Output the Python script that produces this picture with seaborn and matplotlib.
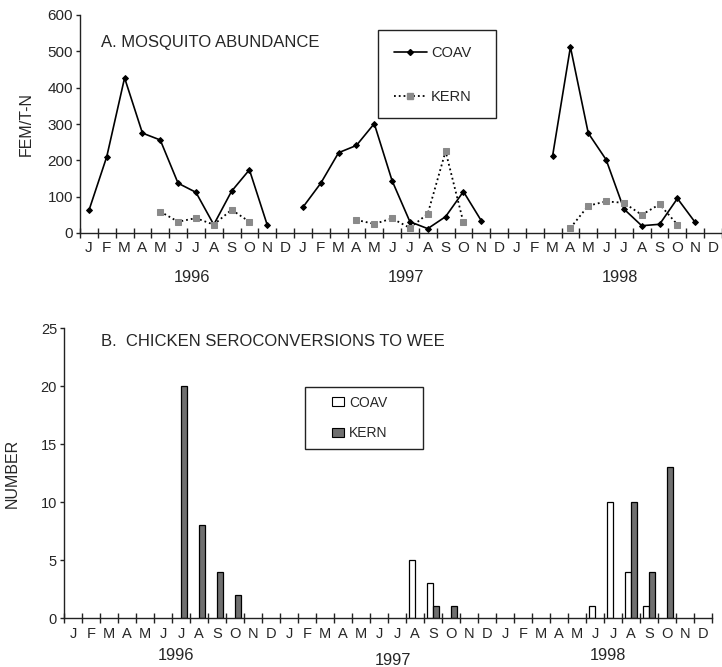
import numpy as np
import pandas as pd
import matplotlib
matplotlib.use("Agg")
import matplotlib.pyplot as plt
import matplotlib.patches as mpatches
from matplotlib.lines import Line2D
import seaborn as sns

sns.set_style("ticks")
plt.rcParams['font.family'] = ['Liberation Sans', 'DejaVu Sans']

nan = np.nan

# ---- data -------------------------------------------------------------
years = [1996, 1997, 1998]
month_letters = ["J", "F", "M", "A", "M", "J", "J", "A", "S", "O", "N", "D"]
sites = ["COAV", "KERN"]

# A. mosquito abundance (females per trap-night), one value per month
coav_abund_1996 = [62, 210, 427, 275, 256, 137, 112, 23, 115, 174, 22, nan]
coav_abund_1997 = [71, 137, 221, 241, 301, 144, 31, 12, 45, 114, 34, nan]
coav_abund_1998 = [nan, nan, 212, 512, 275, 202, 66, 20, 24, 95, 29, nan]
kern_abund_1996 = [nan, nan, nan, nan, 59, 31, 41, 23, 64, 31, nan, nan]
kern_abund_1997 = [nan, nan, nan, 36, 25, 40, 14, 53, 225, 29, nan, nan]
kern_abund_1998 = [nan, nan, nan, 14, 75, 87, 83, 50, 79, 23, nan, nan]

# B. chicken seroconversions to WEE, one value per month
coav_sero_1996 = [0, 0, 0, 0, 0, 0, 0, 0, 0, 0, 0, 0]
coav_sero_1997 = [0, 0, 0, 0, 0, 0, 0, 5, 3, 0, 0, 0]
coav_sero_1998 = [0, 0, 0, 0, 0, 1, 10, 4, 1, 0, 0, 0]
kern_sero_1996 = [0, 0, 0, 0, 0, 0, 20, 8, 4, 2, 0, 0]
kern_sero_1997 = [0, 0, 0, 0, 0, 0, 0, 0, 1, 1, 0, 0]
kern_sero_1998 = [0, 0, 0, 0, 0, 0, 0, 10, 4, 13, 0, 0]

# ---- long tables ------------------------------------------------------
month_idx = np.arange(36)
year_col = np.repeat(years, 12)

abund = pd.DataFrame({
    "month": month_idx,
    "year": year_col,
    "COAV": coav_abund_1996 + coav_abund_1997 + coav_abund_1998,
    "KERN": kern_abund_1996 + kern_abund_1997 + kern_abund_1998,
}).melt(id_vars=["month", "year"], var_name="site", value_name="value").dropna()

sero = pd.DataFrame({
    "month": month_idx,
    "COAV": coav_sero_1996 + coav_sero_1997 + coav_sero_1998,
    "KERN": kern_sero_1996 + kern_sero_1997 + kern_sero_1998,
}).melt(id_vars="month", var_name="site", value_name="count")
sero = sero[sero["count"] > 0]

# ---- figure -----------------------------------------------------------
fig = plt.figure(figsize=(7.22, 6.67), dpi=100)
W, H = 722, 667
ax1 = fig.add_axes([80 / W, 1 - 233 / H, 642 / W, 218 / H])
ax2 = fig.add_axes([64 / W, 1 - 618 / H, 648 / W, 290 / H])

kern_grey = "#8a8a8a"

# A. lines, one line per year so the gaps stay open
sns.lineplot(data=abund[abund.site == "COAV"], x="month", y="value",
             units="year", estimator=None, color="black", lw=1.2,
             marker="D", markersize=3, mec="black", legend=False, ax=ax1)
sns.lineplot(data=abund[abund.site == "KERN"], x="month", y="value",
             units="year", estimator=None, color="black", lw=1.3,
             linestyle=":", marker="s", markersize=5, mfc=kern_grey,
             mec=kern_grey, legend=False, ax=ax1)

# B. paired bars
sns.barplot(data=sero, x="month", y="count", hue="site", order=list(month_idx),
            hue_order=sites, palette={"COAV": "white", "KERN": "#6f6f6f"},
            saturation=1, width=0.67, edgecolor="black", linewidth=0.9,
            legend=False, ax=ax2)

ax1.set_ylim(0, 600)
ax1.set_yticks(range(0, 601, 100))
ax1.set_xlim(-0.5, (W - 80) / 17.9 - 0.5)
ax2.set_ylim(0, 25)
ax2.set_yticks(range(0, 26, 5))
ax2.set_xlim(-0.5, 35.5)

for ax, mpad, mfs, yfs in [(ax1, 5.5, 11, 11), (ax2, 6.5, 10.5, 10.5)]:
    ax.set_xticks(month_idx)
    ax.set_xticklabels(month_letters * 3, fontsize=mfs)
    ax.set_xticks(np.arange(-0.5, 36, 1), minor=True)
    ax.tick_params(axis="x", which="major", length=0, pad=mpad)
    ax.tick_params(axis="x", which="minor", direction="inout", length=7,
                   width=1, color="#222222")
    ax.tick_params(axis="y", direction="out", length=3, width=1,
                   color="#222222", labelsize=yfs, pad=2)
    ax.set_xlabel("")
    for s in ["top", "right"]:
        ax.spines[s].set_visible(False)
    for s in ["left", "bottom"]:
        ax.spines[s].set_linewidth(1.0)
        ax.spines[s].set_color("#222222")

ax1.set_ylabel("FEM/T-N", fontsize=11.5)
ax1.yaxis.set_label_coords(-0.0717, 0.5)
ax2.set_ylabel("NUMBER", fontsize=11.5)
ax2.yaxis.set_label_coords(-0.068, 0.5)

# year labels under the month letters
for x, yr in zip([5.8, 17.8, 29.8], years):
    ax1.text(x, -0.206, str(yr), transform=ax1.get_xaxis_transform(),
             ha="center", va="center", fontsize=11.75)
for x, y, yr in zip([5.7, 17.8, 29.7], [-0.131, -0.145, -0.131], years):
    ax2.text(x, y, str(yr), transform=ax2.get_xaxis_transform(),
             ha="center", va="center", fontsize=11.75)

ax1.text(0.0327, 0.872, "A. MOSQUITO ABUNDANCE", transform=ax1.transAxes,
         va="center", fontsize=12)
ax2.text(0.057, 0.955, "B.  CHICKEN SEROCONVERSIONS TO WEE",
         transform=ax2.transAxes, va="center", fontsize=12)

# legends with plain square boxes
top_handles = [
    Line2D([], [], color="black", lw=1.2, marker="D", markersize=3),
    Line2D([], [], color="black", lw=1.3, linestyle=":", marker="s",
           markersize=5, mfc=kern_grey, mec=kern_grey),
]
ax1.legend(top_handles, sites, loc="center left",
           bbox_to_anchor=(394 / W, 1 - 75 / H), bbox_transform=fig.transFigure,
           frameon=False, borderpad=0, borderaxespad=0, fontsize=10.5,
           handlelength=2.26, handletextpad=0.27, labelspacing=2.06)
fig.add_artist(mpatches.Rectangle((378 / W, 1 - 118 / H), 118 / W, 88 / H,
                                  transform=fig.transFigure, fill=False,
                                  edgecolor="#222222", lw=1.0))

bottom_handles = [
    mpatches.Patch(facecolor="white", edgecolor="black", lw=0.8),
    mpatches.Patch(facecolor="#6f6f6f", edgecolor="black", lw=0.8),
]
ax2.legend(bottom_handles, sites, loc="center left",
           bbox_to_anchor=(332 / W, 1 - 418 / H), bbox_transform=fig.transFigure,
           frameon=False, borderpad=0, borderaxespad=0, fontsize=10,
           handlelength=0.86, handleheight=0.58, handletextpad=0.36,
           labelspacing=1.21)
fig.add_artist(mpatches.Rectangle((305 / W, 1 - 449 / H), 118 / W, 62 / H,
                                  transform=fig.transFigure, fill=False,
                                  edgecolor="#222222", lw=1.0))

fig.savefig("out.png", dpi=100)
